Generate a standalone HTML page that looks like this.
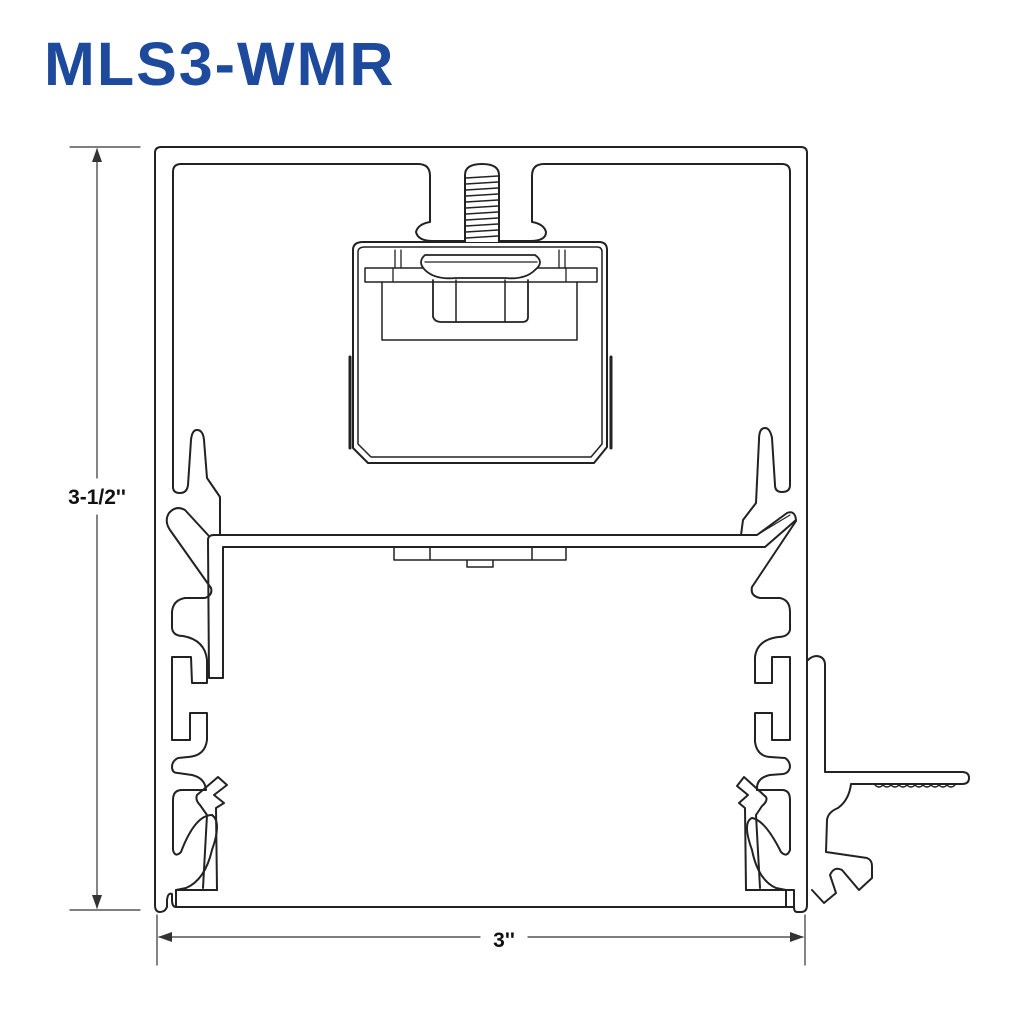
<!DOCTYPE html>
<html><head><meta charset="utf-8"><style>
html,body{margin:0;padding:0;background:#fff;}
.t{position:absolute;left:44px;top:29px;font-family:"Liberation Sans",sans-serif;font-weight:bold;font-size:61px;color:#1d4a9c;letter-spacing:2px;}
</style></head><body>
<div style="position:relative;width:1030px;height:1030px;overflow:hidden">
<div class="t">MLS3-WMR</div>
<svg width="1030" height="1030" style="position:absolute;left:0;top:0" fill="none" stroke="#222" stroke-width="2" stroke-linejoin="round" stroke-linecap="round" font-family="Liberation Sans, sans-serif">
<!-- dimensions -->
<g stroke="#333" stroke-width="1.2">
<line x1="70" y1="147" x2="140" y2="147"/><line x1="70" y1="910" x2="140" y2="910"/>
<line x1="97" y1="149" x2="97" y2="478"/><line x1="97" y1="515" x2="97" y2="908"/>
<line x1="157" y1="915" x2="157" y2="965"/><line x1="805" y1="915" x2="805" y2="965"/>
<line x1="159" y1="937" x2="480" y2="937"/><line x1="528" y1="937" x2="803" y2="937"/>
</g>
<g fill="#333" stroke="none">
<path d="M97,148 L92,162 L102,162Z"/><path d="M97,909 L92,895 L102,895Z"/>
<path d="M158,937 L172,932 L172,942Z"/><path d="M804,937 L790,932 L790,942Z"/>
</g>
<text x="97" y="504" fill="#111" stroke="none" font-size="21" font-weight="bold" text-anchor="middle">3-1/2''</text>
<text x="504" y="947" fill="#111" stroke="none" font-size="21" font-weight="bold" text-anchor="middle">3''</text>

<!-- outer housing -->
<path d="M155,905 L155,153 Q155,147 161,147 L801,147 Q807,147 807,153 L807,905 Q807,912 801,912 L797,912 Q794,912 794,907 L176,907 Q172,907 172,900 L172,894 Q168,892 167,900 L167,907 Q165,912 160,912 Q155,912 155,905Z"/>
<path d="M176,907 L176,890 L217,890"/>
<path d="M794,907 L794,890 L746,890"/>
<!-- inner cavity top contour -->
<path d="M173,487 L173,172 Q173,164 181,164 L418,164 Q430,164 430,176 L430,222 Q418,224 416,232 Q418,241 433,241 L530,241 Q546,241 546,232 Q544,224 532,222 L532,176 Q532,164 544,164 L782,164 Q790,164 790,172 L790,485 Q790,492 782,492 Q775,492 775,485 L772,438 Q770,428 765,428 Q759,428 759,440 L756,503 L743,520 L741,535"/>
<path d="M173,487 Q173,493 180,493 Q187,493 188,485 L191,440 Q192,430 197,430 Q203,430 204,440 L207,478 L220,497 L220,535"/>
<!-- left wall profile -->
<path d="M208,535 L185,510 Q176,505 169,513 Q164,521 170,530 L211,588 Q213,595 205,598 L185,598 Q173,600 172,612 L172,628 Q173,636 183,636 Q205,640 207,660 L207,683 L192,683 L191,657 L172,657 L172,740 L190,740 L190,713 L207,713 L207,740 Q205,756 188,757 L178,758 Q172,761 172,767 Q172,773 178,773 L192,775 Q205,778 206,790"/>
<path d="M205,790 L182,790 Q173,790 173,800 L173,850 Q175,858 181,852 Q195,815 212,815"/>
<path d="M212,815 Q222,822 212,850 Q205,880 186,888 L176,890"/>
<path d="M217,890 L216,808 L224,803 L214,795 L227,785 L218,777 L197,795 Q195,800 200,805 L207,815 L203,888"/>
<!-- right wall profile -->
<path d="M796,521 L752,587 Q750,596 760,598 L780,598 Q790,600 790,612 L790,630 Q788,637 778,637 Q757,640 755,657 L755,683 L772,683 L772,657 L790,657 L790,740 L772,740 L772,713 L755,713 L755,742 Q757,756 770,757 L785,758 Q790,761 790,767 Q789,773 783,774 L770,775 Q756,778 757,790"/>
<path d="M757,790 L782,790 Q790,790 790,800 L790,850 Q787,858 781,852 Q765,820 752,818"/>
<path d="M752,818 Q742,822 752,850 Q758,880 776,888 L786,890 L786,907"/>
<path d="M746,890 L745,808 L739,803 L748,795 L737,786 L744,777 L766,797 Q768,801 762,806 L756,815 L760,888"/>
<!-- lens -->
<path d="M208,540 Q208,535 214,535 L757,535 L787,513 Q795,510 796,520 L765,547 L223,547 L223,678 L209,678 L208,540Z"/>
<path d="M757,535 L790,515" stroke-width="1.2"/>
<!-- clip under lens -->
<path d="M394,547 L394,560 L566,560 L566,547 M430,547 L430,560 M532,547 L532,560" stroke-width="1.5"/>
<path d="M467,560 L467,567 L493,567 L493,560" stroke-width="1.5"/>
<!-- driver box -->
<path d="M363,242 L599,242 Q607,242 607,250 L607,447 L594,463 L368,463 L353,448 L353,250 Q353,242 363,242Z"/>
<path d="M365,247 L597,247 Q602,247 602,252 L602,444 L591,457 L371,457 L358,444 L358,252 Q358,247 365,247Z" stroke-width="1.5"/>
<path d="M350,357 L350,448 M611,357 L611,448" stroke-width="3"/>
<path d="M365,268 L597,268 L597,282 L365,282Z" stroke-width="1.5"/>
<path d="M382,282 L382,340 L577,340 L577,282" stroke-width="1.5"/>
<path d="M395,250 L395,268 M401,250 L401,268 M559,250 L559,268 M565,250 L565,268 M393,282 L393,268 M566,282 L566,268" stroke-width="1.3"/>
<path d="M433,280 L433,317 Q435,322 441,322 L522,322 Q528,322 528,317 L528,280" stroke-width="1.8"/>
<path d="M456,280 L456,322 M505,280 L505,322" stroke-width="1.5"/>
<path d="M425,255 L535,255 Q545,262 535,270 Q525,280 505,278 L456,278 Q435,280 425,270 Q417,262 425,255Z" fill="#fff" stroke-width="1.8"/>
<line x1="425" y1="262" x2="537" y2="262" stroke-width="1.3"/>
<!-- stud -->
<path d="M465,242 L465,175 Q465,164 482,164 Q499,164 499,175 L499,242" fill="#fff" stroke-width="2"/>
<g stroke-width="1.6">
<line x1="466" y1="178" x2="498" y2="176"/><line x1="466" y1="184" x2="498" y2="182"/><line x1="466" y1="190" x2="498" y2="188"/><line x1="466" y1="196" x2="498" y2="194"/><line x1="466" y1="202" x2="498" y2="200"/><line x1="466" y1="208" x2="498" y2="206"/><line x1="466" y1="214" x2="498" y2="212"/><line x1="466" y1="220" x2="498" y2="218"/><line x1="466" y1="226" x2="498" y2="224"/><line x1="466" y1="232" x2="498" y2="230"/><line x1="466" y1="238" x2="498" y2="236"/>
</g>
<!-- right external bracket -->
<path d="M808,660 Q812,656 817,656 Q825,657 825,665 L825,772 L962,772 Q969,772 969,778 Q969,784 962,784 L851,784 Q849,800 838,808 Q828,812 827,820 L826,852 L867,858 Q872,860 872,866 L872,878 L859,890 L842,870 Q834,866 830,875 L836,893 L824,903 L812,890"/>
<path d="M875,785 Q879,789 883,785 Q887,789 891,785 Q895,789 899,785 Q903,789 907,785 Q911,789 915,785 Q919,789 923,785 Q927,789 931,785 Q935,789 939,785 Q943,789 947,785 Q951,789 955,785" stroke-width="1.3"/>
</svg>
</div>
</body></html>
